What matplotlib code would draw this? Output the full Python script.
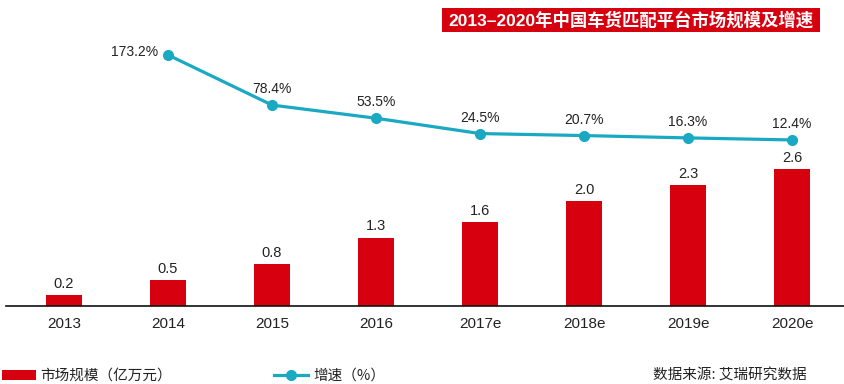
import matplotlib
matplotlib.use("Agg")
import matplotlib.pyplot as plt
from matplotlib.patches import Rectangle

plt.rcParams['font.family'] = ['Liberation Sans', 'Noto Sans CJK SC', 'DejaVu Sans']

# 数据
years = ['2013', '2014', '2015', '2016', '2017e', '2018e', '2019e', '2020e']
market_size = [0.2, 0.5, 0.8, 1.3, 1.6, 2.0, 2.3, 2.6]      # 亿万元
growth_years = years[1:]
growth_rate = [173.2, 78.4, 53.5, 24.5, 20.7, 16.3, 12.4]   # %

title = '2013–2020年中国车货匹配平台市场规模及增速'
bar_label = '市场规模（亿万元）'
line_label = '增速（%）'
source = '数据来源: 艾瑞研究数据'

red = '#D7000F'
teal = '#19A9C3'
txt = '#222222'

W, H = 844, 384
fig = plt.figure(figsize=(W / 100, H / 100), dpi=100)
# 坐标轴位置按像素换算
ax = fig.add_axes([6 / W, (H - 306) / H, 1 - 6 / W, (306 - 30) / H])

x = list(range(len(years)))
bars = ax.bar(x, market_size, width=0.346, color=red, zorder=2)
for xi, v in zip(x, market_size):
    ax.annotate(f'{v:.1f}', (xi, v), xytext=(0, 3), textcoords='offset points',
                ha='center', va='bottom', fontsize=10.5, color=txt)

ax.set_xlim(-0.558, 7.5)
ax.set_ylim(0, 5.247)
ax.set_xticks(x)
ax.set_xticklabels(years, fontsize=11, color=txt)
ax.tick_params(axis='x', length=0, pad=8)
ax.set_yticks([])
for s in ['top', 'right', 'left']:
    ax.spines[s].set_visible(False)
ax.spines['bottom'].set_linewidth(1.2)
ax.spines['bottom'].set_color('#111111')

ax2 = ax.twinx()
xl = [years.index(y) for y in growth_years]
line, = ax2.plot(xl, growth_rate, color=teal, lw=2.3, marker='o', ms=7, zorder=3)
ax2.set_ylim(-301.7, 220.4)
ax2.set_yticks([])
for s in ax2.spines.values():
    s.set_visible(False)
for i, (xi, v) in enumerate(zip(xl, growth_rate)):
    if i == 0:
        ax2.annotate(f'{v}%', (xi, v), xytext=(-7, 2), textcoords='offset points',
                     ha='right', va='center', fontsize=10, color=txt)
    else:
        ax2.annotate(f'{v}%', (xi, v), xytext=(0, 6.5), textcoords='offset points',
                     ha='center', va='bottom', fontsize=10, color=txt)

# 标题红框
fig.patches.append(Rectangle((442 / W, 1 - 32 / H), (820 - 442) / W, 24 / H,
                             transform=fig.transFigure, facecolor=red, edgecolor='none'))
fig.text(631 / W, 1 - 20 / H, title, ha='center', va='center', color='white',
         fontsize=12.5, fontweight='bold')

# 图例
fig.legend([bars, line], [bar_label, line_label], loc='center left',
           bbox_to_anchor=(2 / W, 8 / H), ncol=2, frameon=False, borderpad=0,
           borderaxespad=0, handlelength=2.3, handletextpad=0.35, columnspacing=7.0,
           prop={'family': ['Noto Sans CJK SC'], 'size': 10.5}, labelcolor=txt)
fig.text(653 / W, 8 / H, source, ha='left', va='center', fontsize=10.5,
         family=['Noto Sans CJK SC'], color=txt)

fig.savefig('out.png', dpi=100)
